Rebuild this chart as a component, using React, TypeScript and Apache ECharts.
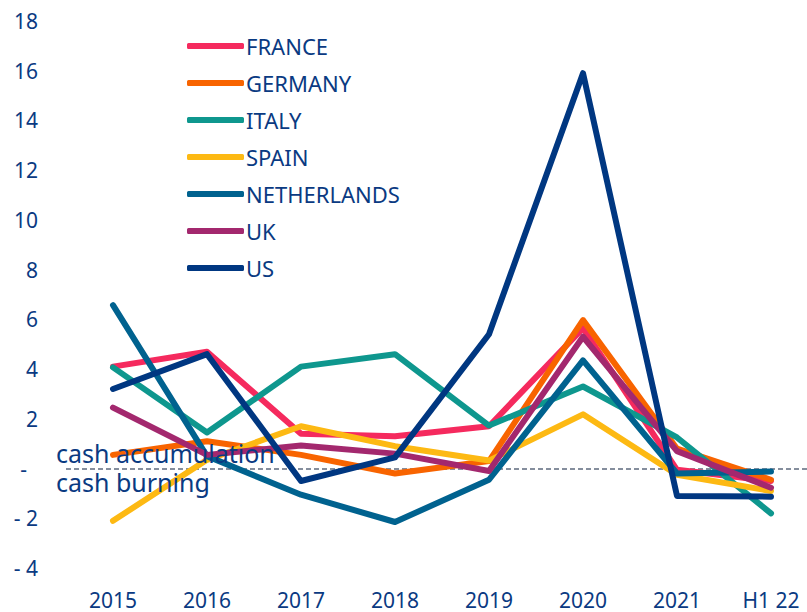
import React, { useEffect, useRef } from "react";
import * as echarts from "echarts";

const categories = ["2015", "2016", "2017", "2018", "2019", "2020", "2021", "H1 22"];
const france = [4.1, 4.7, 1.4, 1.3, 1.7, 5.65, -0.05, -0.5];
const germany = [0.55, 1.1, 0.55, -0.2, 0.3, 5.97, 0.8, -0.45];
const italy = [4.07, 1.45, 4.1, 4.6, 1.73, 3.3, 1.25, -1.8];
const spain = [-2.1, 0.35, 1.7, 0.9, 0.32, 2.18, -0.25, -0.9];
const netherlands = [6.57, 0.5, -1.05, -2.15, -0.45, 4.35, -0.2, -0.12];
const uk = [2.45, 0.55, 0.93, 0.6, -0.1, 5.3, 0.7, -0.77];
const us = [3.2, 4.6, -0.5, 0.45, 5.4, 15.9, -1.1, -1.13];

const seriesNames = ["FRANCE", "GERMANY", "ITALY", "SPAIN", "NETHERLANDS", "UK", "US"];
const seriesData = [france, germany, italy, spain, netherlands, uk, us];
const seriesColors = ["#F52A5E", "#F86400", "#0E978E", "#FDB913", "#00628F", "#A3286E", "#003781"];

const annotationTop = "cash accumulation";
const annotationBottom = "cash burning";

const TEXT = "#0A3A82";
const FONT = "Noto Sans";

export default function App() {
  const ref = useRef<HTMLDivElement>(null);
  useEffect(() => {
    if (!ref.current) return;
    const chart = echarts.init(ref.current, undefined, { renderer: "svg" });
    const series: any[] = seriesNames.map((name, i) => ({
      name,
      type: "line",
      data: seriesData[i],
      symbol: "none",
      lineStyle: { color: seriesColors[i], width: 6, cap: "round", join: "round" },
      itemStyle: { color: seriesColors[i] },
      z: 3,
    }));
    series[0].markLine = {
      silent: true,
      symbol: "none",
      label: { show: false },
      lineStyle: { color: "#5E6A7E", width: 1.5, type: [5, 3] },
      data: [{ yAxis: 0 }],
      z: 1,
    };
    chart.setOption({
      animation: false,
      textStyle: { fontFamily: FONT },
      grid: { left: 66, right: -11, top: 21, bottom: 44, outerBoundsMode: "none", containLabel: false },
      legend: {
        orient: "vertical",
        left: 182,
        top: 30,
        itemWidth: 57,
        itemHeight: 6,
        itemGap: 15,
        icon: "roundRect",
        textStyle: { color: TEXT, fontSize: 22, fontFamily: FONT, padding: [0, 0, 0, -3] },
        data: seriesNames,
      },
      xAxis: {
        type: "category",
        data: categories,
        boundaryGap: true,
        axisLine: { show: false },
        axisTick: { show: false },
        axisLabel: { color: TEXT, fontSize: 21, margin: 21, fontFamily: FONT },
      },
      yAxis: {
        type: "value",
        min: -4,
        max: 18,
        interval: 2,
        splitLine: { show: false },
        axisLine: { show: false },
        axisTick: { show: false },
        axisLabel: {
          color: TEXT,
          fontSize: 21,
          margin: 28,
          fontFamily: FONT,
          formatter: (v: number) => {
            if (v === 0) return "{z|-}";
            if (v < 0) return "- " + Math.abs(v);
            return String(v);
          },
          rich: { z: { color: TEXT, fontSize: 21, fontFamily: FONT, padding: [0, 11, 0, 0] } },
        },
      },
      graphic: [
        {
          type: "text",
          left: 56,
          top: 440,
          z: 10,
          style: { text: annotationTop, fill: TEXT, fontSize: 25, fontFamily: FONT },
        },
        {
          type: "text",
          left: 56,
          top: 469,
          z: 10,
          style: { text: annotationBottom, fill: TEXT, fontSize: 25, fontFamily: FONT },
        },
      ],
      series,
    });
    return () => chart.dispose();
  }, []);
  return <div ref={ref} style={{ width: 807, height: 612, position: "absolute", left: 0, top: 0 }} />;
}
